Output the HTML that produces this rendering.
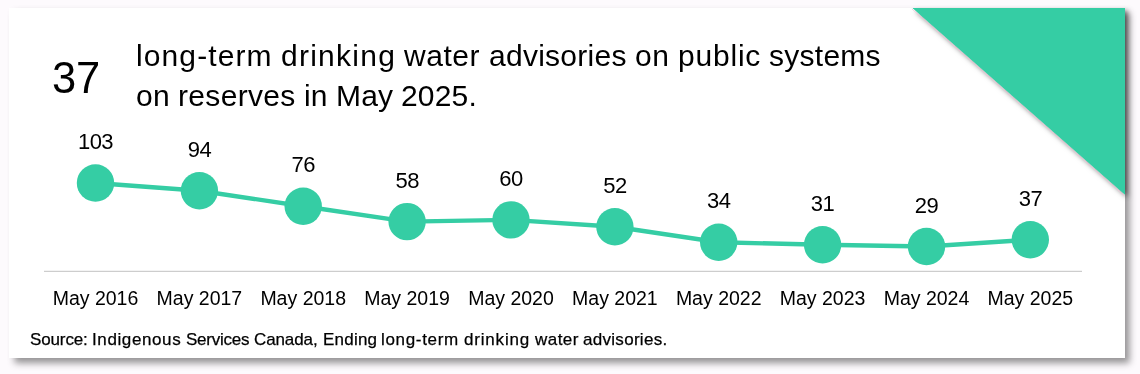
<!DOCTYPE html>
<html><head><meta charset="utf-8"><style>
html,body{margin:0;padding:0;background:#fdfafd;width:1140px;height:374px;overflow:hidden;}
body{position:relative;font-family:"Liberation Sans",sans-serif;color:#000;}
.card{position:absolute;left:9px;top:8px;width:1116px;height:350px;background:#fff;box-shadow:4.5px 5px 7px rgba(0,0,0,0.42);}
svg{position:absolute;left:0;top:0;will-change:transform;}
.w{position:absolute;white-space:nowrap;will-change:transform;}
.s{-webkit-text-stroke:0.25px #000;}
</style></head><body>
<div class="card"></div>
<svg width="1140" height="374" viewBox="0 0 1140 374">
<defs><filter id="ts" x="-20%" y="-20%" width="140%" height="140%"><feDropShadow dx="2.5" dy="3" stdDeviation="2.5" flood-color="#000" flood-opacity="0.5"/></filter></defs>
<polygon points="912.7,8 1125,8 1125,194.6" fill="#35cda4" filter="url(#ts)"/>
<line x1="911.9" y1="8.9" x2="1124.2" y2="195.5" stroke="#f0c8d8" stroke-width="0.8"/>
<polygon points="912.7,8 1125,8 1125,194.6" fill="#35cda4"/>
<line x1="44" y1="271.4" x2="1082" y2="271.4" stroke="#cdcdcd" stroke-width="1.4"/>
<polyline points="95.5,183.0 199.4,190.7 303.2,206.2 407.1,221.6 511.0,219.9 614.9,226.8 718.7,242.2 822.6,244.8 926.5,246.5 1030.3,239.7" fill="none" stroke="#35cda4" stroke-width="4.4"/>
<g fill="#35cda4"><circle cx="95.5" cy="183.0" r="18.7"/><circle cx="199.4" cy="190.7" r="18.7"/><circle cx="303.2" cy="206.2" r="18.7"/><circle cx="407.1" cy="221.6" r="18.7"/><circle cx="511.0" cy="219.9" r="18.7"/><circle cx="614.9" cy="226.8" r="18.7"/><circle cx="718.7" cy="242.2" r="18.7"/><circle cx="822.6" cy="244.8" r="18.7"/><circle cx="926.5" cy="246.5" r="18.7"/><circle cx="1030.3" cy="239.7" r="18.7"/></g>
<g font-family="Liberation Sans" font-size="22" fill="#000" text-anchor="middle" letter-spacing="-0.5"><text x="95.5" y="149.0">103</text><text x="199.4" y="156.7">94</text><text x="303.3" y="172.2">76</text><text x="407.2" y="187.6">58</text><text x="511.0" y="185.9">60</text><text x="614.9" y="192.8">52</text><text x="718.8" y="208.2">34</text><text x="822.6" y="210.8">31</text><text x="926.5" y="212.5">29</text><text x="1030.4" y="205.7">37</text></g>
<g font-family="Liberation Sans" font-size="19.5" fill="#000" text-anchor="middle"><text x="95.5" y="305.2">May 2016</text><text x="199.4" y="305.2">May 2017</text><text x="303.2" y="305.2">May 2018</text><text x="407.1" y="305.2">May 2019</text><text x="511.0" y="305.2">May 2020</text><text x="614.9" y="305.2">May 2021</text><text x="718.7" y="305.2">May 2022</text><text x="822.6" y="305.2">May 2023</text><text x="926.5" y="305.2">May 2024</text><text x="1030.3" y="305.2">May 2025</text></g>
</svg>
<span class="w " style="left:51.94px;top:52.9px;font-size:43.5px;line-height:50px;letter-spacing:-0.141px">37</span>
<span class="w " style="left:135.98px;top:36px;font-size:30px;line-height:40px;letter-spacing:1.102px">long-term</span>
<span class="w " style="left:280.94px;top:36px;font-size:30px;line-height:40px;letter-spacing:1.251px">drinking</span>
<span class="w " style="left:404.34px;top:36px;font-size:30px;line-height:40px;letter-spacing:0.537px">water</span>
<span class="w " style="left:488.73px;top:36px;font-size:30px;line-height:40px;letter-spacing:0.262px">advisories</span>
<span class="w " style="left:634.74px;top:36px;font-size:30px;line-height:40px;letter-spacing:0.611px">on</span>
<span class="w " style="left:677.67px;top:36px;font-size:30px;line-height:40px;letter-spacing:0.797px">public</span>
<span class="w " style="left:769.17px;top:36px;font-size:30px;line-height:40px;letter-spacing:0.268px">systems</span>
<span class="w " style="left:135.74px;top:76px;font-size:30px;line-height:40px;letter-spacing:0.282px">on</span>
<span class="w " style="left:178.01px;top:76px;font-size:30px;line-height:40px;letter-spacing:0.327px">reserves</span>
<span class="w " style="left:303.99px;top:76px;font-size:30px;line-height:40px;letter-spacing:0.131px">in</span>
<span class="w " style="left:335.94px;top:76px;font-size:30px;line-height:40px;letter-spacing:0.181px">May</span>
<span class="w " style="left:401.49px;top:76px;font-size:30px;line-height:40px;letter-spacing:0.169px">2025.</span>
<span class="w s" style="left:29.83px;top:329.6px;font-size:17px;line-height:20px;letter-spacing:-0.130px">Source:</span>
<span class="w s" style="left:92.23px;top:329.6px;font-size:17px;line-height:20px;letter-spacing:0.609px">Indigenous</span>
<span class="w s" style="left:186.23px;top:329.6px;font-size:17px;line-height:20px;letter-spacing:-0.238px">Services</span>
<span class="w s" style="left:254.24px;top:329.6px;font-size:17px;line-height:20px;letter-spacing:-0.104px">Canada,</span>
<span class="w s" style="left:322.51px;top:329.6px;font-size:17px;line-height:20px;letter-spacing:0.215px">Ending</span>
<span class="w s" style="left:381.45px;top:329.6px;font-size:17px;line-height:20px;letter-spacing:0.667px">long-term</span>
<span class="w s" style="left:463.99px;top:329.6px;font-size:17px;line-height:20px;letter-spacing:0.810px">drinking</span>
<span class="w s" style="left:534.72px;top:329.6px;font-size:17px;line-height:20px;letter-spacing:0.472px">water</span>
<span class="w s" style="left:583.38px;top:329.6px;font-size:17px;line-height:20px;letter-spacing:0.292px">advisories.</span>
</body></html>
